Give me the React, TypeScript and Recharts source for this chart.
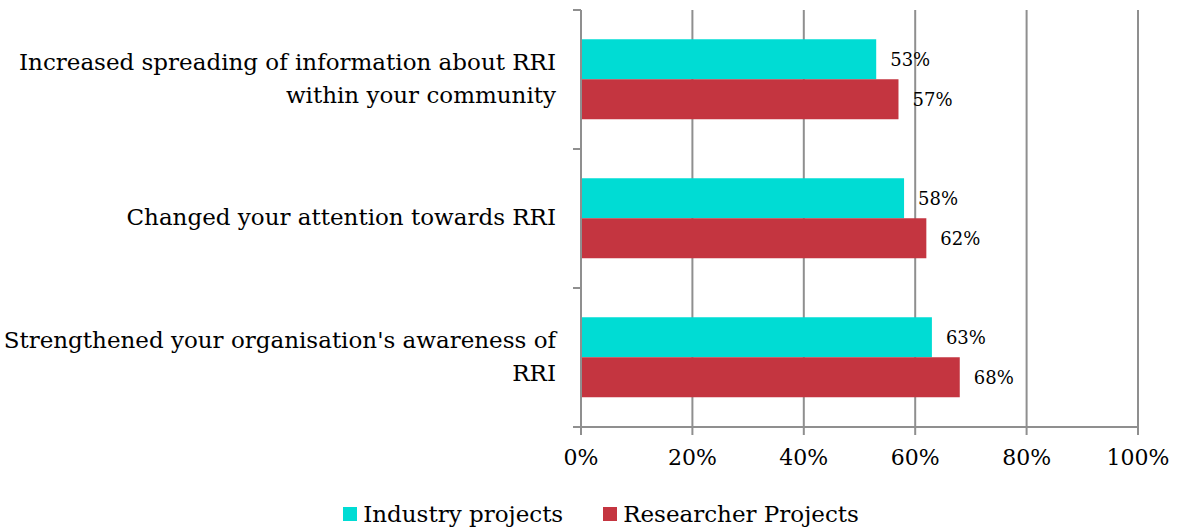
import { BarChart, Bar, XAxis, YAxis, CartesianGrid, Legend, LabelList } from "recharts";

const categories = [
  "Increased spreading of information about RRI within your community",
  "Changed your attention towards RRI",
  "Strengthened your organisation's awareness of RRI",
];
// how each category label is broken across lines
const categoryLines = [
  ["Increased spreading of information about RRI", "within your community"],
  ["Changed your attention towards RRI"],
  ["Strengthened your organisation's awareness of", "RRI"],
];
const industry = [53, 58, 63];
const researcher = [57, 62, 68];
const xTicks = [0, 20, 40, 60, 80, 100];

const CYAN = "#00dcd4";
const RED = "#c43540";
const GRID = "#8f8f8f";
const FONT = "'DejaVu Serif', serif";

const data = categories.map((name, i) => ({
  name,
  industry: industry[i],
  researcher: researcher[i],
}));

// category label plus the small tick marks on the band boundaries
function CategoryTick({ x, y, payload, index, visibleTicksCount }: any) {
  const idx = categories.indexOf(payload.value);
  const lines = categoryLines[idx] || [payload.value];
  const lh = 33;
  const start = y - ((lines.length - 1) * lh) / 2;
  const half = payload.offset || 0;
  const isLast = index === visibleTicksCount - 1;
  return (
    <g>
      <line x1={x} x2={x + 8} y1={y - half} y2={y - half} stroke={GRID} strokeWidth={2} />
      {isLast && <line x1={x} x2={x + 8} y1={y + half} y2={y + half} stroke={GRID} strokeWidth={2} />}
      <text x={x - 17} y={start} textAnchor="end" fontSize={23} fontFamily={FONT} fill="#000">
        {lines.map((l, i) => (
          <tspan key={i} x={x - 17} dy={i === 0 ? "0.3em" : lh}>
            {l}
          </tspan>
        ))}
      </text>
    </g>
  );
}

function LegendContent() {
  const items = [
    { label: "Industry projects", color: CYAN },
    { label: "Researcher Projects", color: RED },
  ];
  return (
    <div style={{ display: "flex", justifyContent: "center", gap: 40, fontFamily: FONT, fontSize: 23, paddingLeft: 64 }}>
      {items.map((it) => (
        <div key={it.label} style={{ display: "flex", alignItems: "center" }}>
          <span style={{ width: 14, height: 14, background: it.color, display: "inline-block", marginRight: 6 }} />
          <span>{it.label}</span>
        </div>
      ))}
    </div>
  );
}

export default function App() {
  return (
    <div style={{ position: "absolute", left: 0, top: 0, background: "#fff" }}>
      <BarChart
        width={1178}
        height={529}
        data={data}
        layout="vertical"
        barCategoryGap="21%"
        barGap={0}
        margin={{ top: 10, right: 40, left: 0, bottom: 2 }}
      >
        <CartesianGrid horizontal={false} stroke={GRID} strokeWidth={2} />
        <XAxis
          type="number"
          domain={[0, 100]}
          ticks={xTicks}
          tickFormatter={(v) => `${v}%`}
          tick={{ fontSize: 22, fill: "#000", fontFamily: FONT }}
          tickSize={8}
          tickMargin={14}
          stroke={GRID}
          strokeWidth={2}
          height={74}
          interval={0}
        />
        <YAxis
          type="category"
          dataKey="name"
          width={581}
          tick={<CategoryTick />}
          tickSize={8}
          tickMargin={0}
          tickLine={false}
          stroke={GRID}
          strokeWidth={2}
          interval={0}
        />
        <Legend verticalAlign="bottom" content={<LegendContent />} />
        <Bar dataKey="industry" fill={CYAN} isAnimationActive={false}>
          <LabelList
            dataKey="industry"
            position="right"
            offset={14}
            formatter={(v: any) => `${v}%`}
            style={{ fontSize: 18, fill: "#000", fontFamily: FONT }}
          />
        </Bar>
        <Bar dataKey="researcher" fill={RED} isAnimationActive={false}>
          <LabelList
            dataKey="researcher"
            position="right"
            offset={14}
            formatter={(v: any) => `${v}%`}
            style={{ fontSize: 18, fill: "#000", fontFamily: FONT }}
          />
        </Bar>
      </BarChart>
    </div>
  );
}
